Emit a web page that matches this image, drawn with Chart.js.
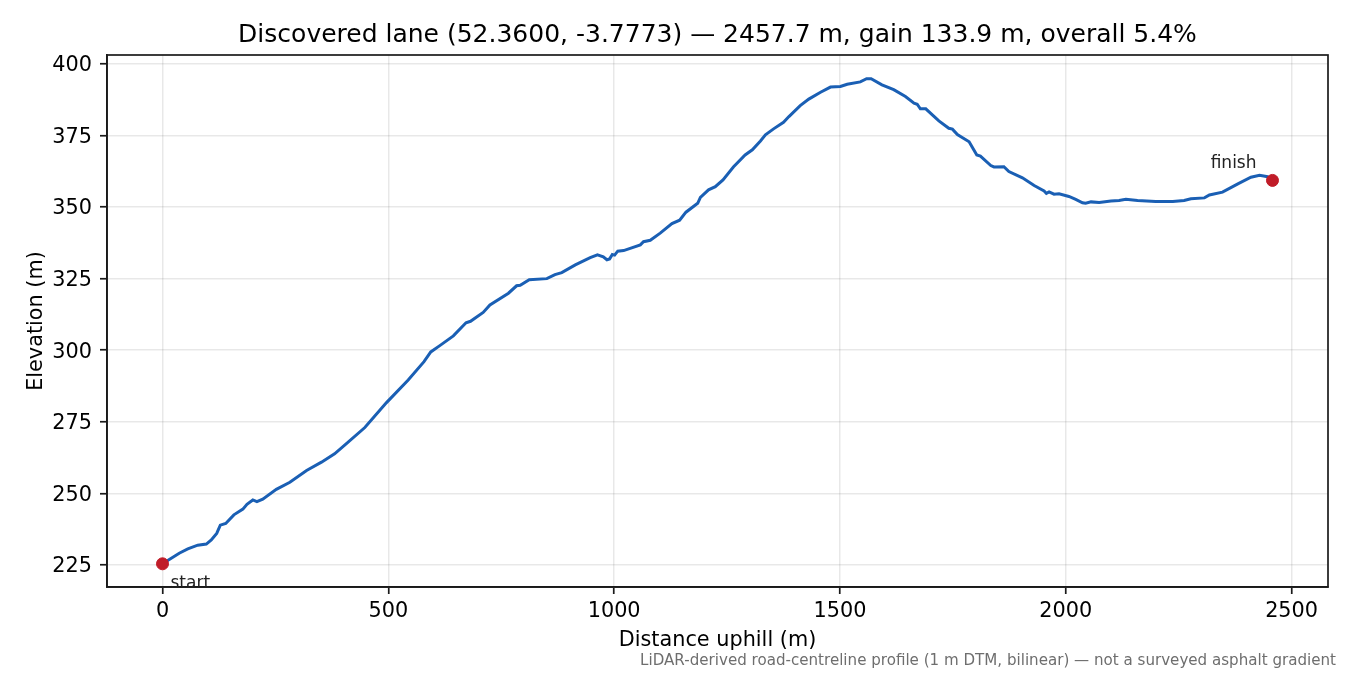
<!DOCTYPE html>
<html>
<head>
<meta charset="utf-8">
<title>Discovered lane</title>
<script src="https://cdn.jsdelivr.net/npm/chart.js@4/dist/chart.umd.min.js"></script>
<style>
	html, body { margin: 0; padding: 0; background: #fff; }
	canvas { display: block; }
</style>
</head>
<body>
<canvas id="chart-area" width="1350" height="675"></canvas>
<script>
var distances = [0, 37, 56, 78, 97, 108, 120, 128, 140, 158, 178, 187, 200, 209, 222, 252, 282, 319, 352, 381,
	404, 448, 496, 544, 579, 594, 614, 644, 672, 682, 710, 725, 766, 784, 792, 812, 851, 869, 884, 914,
	947, 963, 976, 984, 990, 996, 1001, 1008, 1021, 1058, 1065, 1080, 1102, 1128, 1145, 1159, 1185, 1191, 1209, 1224,
	1241, 1264, 1290, 1306, 1324, 1335, 1353, 1375, 1387, 1412, 1431, 1457, 1479, 1501, 1516, 1545, 1559, 1569, 1593, 1619,
	1645, 1664, 1671, 1678, 1690, 1719, 1741, 1749, 1760, 1786, 1793, 1803, 1811, 1834, 1841, 1863, 1874, 1904, 1930, 1952,
	1957, 1963, 1974, 1985, 2007, 2022, 2037, 2044, 2056, 2074, 2100, 2118, 2133, 2159, 2199, 2237, 2262, 2277, 2307, 2318,
	2347, 2381, 2410, 2429, 2447, 2457.7];
var elevations = [225.4, 229.1, 230.6, 231.9, 232.3, 233.7, 236, 238.9, 239.5, 242.5, 244.5, 246.2, 247.7, 247.1, 248, 251.4, 253.9, 258, 260.9, 263.8,
	266.9, 273, 281.7, 289.6, 296, 299.4, 301.6, 305, 309.6, 310.1, 313.2, 315.8, 319.9, 322.5, 322.7, 324.6, 325, 326.4, 327.1, 329.8,
	332.3, 333.3, 332.6, 331.6, 331.9, 333.4, 333.2, 334.6, 334.8, 336.8, 337.9, 338.4, 340.9, 344.2, 345.4, 348.2, 351.3, 353.4, 356, 357.1,
	359.5, 364, 368.2, 370, 373.1, 375.2, 377.3, 379.6, 381.6, 385.4, 387.7, 390.1, 391.9, 392.1, 392.9, 393.7, 394.8, 394.8, 392.7, 391,
	388.6, 386.3, 385.9, 384.3, 384.3, 380.1, 377.5, 377.2, 375.3, 372.8, 370.9, 368.2, 367.8, 364.5, 364, 364.1, 362.4, 360.2, 357.5, 355.6,
	354.8, 355.3, 354.5, 354.6, 353.7, 352.7, 351.5, 351.3, 351.8, 351.6, 352.1, 352.3, 352.7, 352.3, 351.9, 351.9, 352.3, 352.9, 353.2, 354.2,
	355.2, 358.1, 360.4, 361.1, 360.6, 359.3];
var endLabels = ['start', 'finish'];
var xTicks = [0, 500, 1000, 1500, 2000, 2500];
var yTicks = [225, 250, 275, 300, 325, 350, 375, 400];

var chartTitle = 'Discovered lane (52.3600, -3.7773) \u2014 2457.7 m, gain 133.9 m, overall 5.4%';
var footNote = 'LiDAR-derived road-centreline profile (1 m DTM, bilinear) \u2014 not a surveyed asphalt gradient';
var fontName = '"DejaVu Sans", sans-serif';
var lineColor = '#1a5fb4';
var markerColor = '#c01c28';
var gridColor = 'rgba(0, 0, 0, 0.09)';
var axisColor = '#1a1a1a';

var lastIdx = distances.length - 1;

var profilePoints = distances.map(function(d, i) {
	return { x: d, y: elevations[i] };
});
var endPoints = [
	{ x: distances[0], y: elevations[0] },
	{ x: distances[lastIdx], y: elevations[lastIdx] }
];

// box around the plot, the end labels and the footnote
var extrasPlugin = {
	id: 'extras',
	afterDatasetsDraw: function(chart) {
		var ctx = chart.ctx;
		var area = chart.chartArea;
		var sx = chart.scales.x;
		var sy = chart.scales.y;
		ctx.save();
		ctx.strokeStyle = axisColor;
		ctx.lineWidth = 1.7;
		ctx.strokeRect(area.left, area.top, area.right - area.left, area.bottom - area.top);

		ctx.fillStyle = '#222';
		ctx.font = '17px ' + fontName;
		ctx.textBaseline = 'alphabetic';
		ctx.textAlign = 'left';
		ctx.fillText(endLabels[0], sx.getPixelForValue(endPoints[0].x) + 8, sy.getPixelForValue(endPoints[0].y) + 24);
		ctx.textAlign = 'right';
		ctx.fillText(endLabels[1], sx.getPixelForValue(endPoints[1].x) - 16, sy.getPixelForValue(endPoints[1].y) - 12);

		ctx.fillStyle = '#6e6e6e';
		ctx.font = '15.1px ' + fontName;
		ctx.textAlign = 'right';
		ctx.fillText(footNote, 1336, 665);
		ctx.restore();
	}
};

var config = {
	type: 'scatter',
	data: {
		datasets: [
			{
				label: 'Profile',
				data: profilePoints,
				showLine: true,
				borderColor: lineColor,
				borderWidth: 3,
				pointRadius: 0,
				tension: 0,
				order: 2
			},
			{
				label: 'Ends',
				data: endPoints,
				showLine: false,
				backgroundColor: markerColor,
				borderColor: markerColor,
				pointRadius: 6,
				clip: false,
				order: 1
			}
		]
	},
	options: {
		responsive: false,
		animation: false,
		devicePixelRatio: 1,
		layout: { padding: { right: 22 } },
		plugins: {
			legend: { display: false },
			tooltip: { enabled: false },
			title: {
				display: true,
				text: chartTitle,
				fullSize: false,
				color: '#000',
				font: { family: fontName, size: 25, weight: 'normal' },
				padding: { top: 20, bottom: 5 }
			}
		},
		scales: {
			x: {
				type: 'linear',
				min: -122.9,
				max: 2580.6,
				afterBuildTicks: function(scale) {
					scale.ticks = xTicks.map(function(v) { return { value: v }; });
				},
				afterFit: function(scale) { scale.height = 88; },
				ticks: {
					color: '#000',
					font: { family: fontName, size: 20.8 },
					padding: 5,
					maxRotation: 0,
					callback: function(v) { return String(v); }
				},
				grid: { color: gridColor, lineWidth: 1.5, tickColor: axisColor, tickLength: 7, tickWidth: 1.7 },
				border: { display: true, color: axisColor, width: 1.7 },
				title: {
					display: true,
					text: 'Distance uphill (m)',
					color: '#000',
					font: { family: fontName, size: 20.8 },
					padding: { top: 0, bottom: 22 }
				}
			},
			y: {
				type: 'linear',
				min: 217.3,
				max: 403.1,
				afterBuildTicks: function(scale) {
					scale.ticks = yTicks.map(function(v) { return { value: v }; });
				},
				afterFit: function(scale) { scale.width = 107; },
				ticks: {
					color: '#000',
					font: { family: fontName, size: 20.8 },
					padding: 8,
					labelOffset: 2,
					callback: function(v) { return String(v); }
				},
				grid: { color: gridColor, lineWidth: 1.5, tickColor: axisColor, tickLength: 7, tickWidth: 1.7 },
				border: { display: true, color: axisColor, width: 1.7 },
				title: {
					display: true,
					text: 'Elevation (m)',
					color: '#000',
					font: { family: fontName, size: 20.8 },
					padding: { top: 24, bottom: 0 }
				}
			}
		}
	},
	plugins: [extrasPlugin]
};

var ctx = document.getElementById('chart-area').getContext('2d');
var chart = new Chart(ctx, config);
</script>
</body>
</html>
